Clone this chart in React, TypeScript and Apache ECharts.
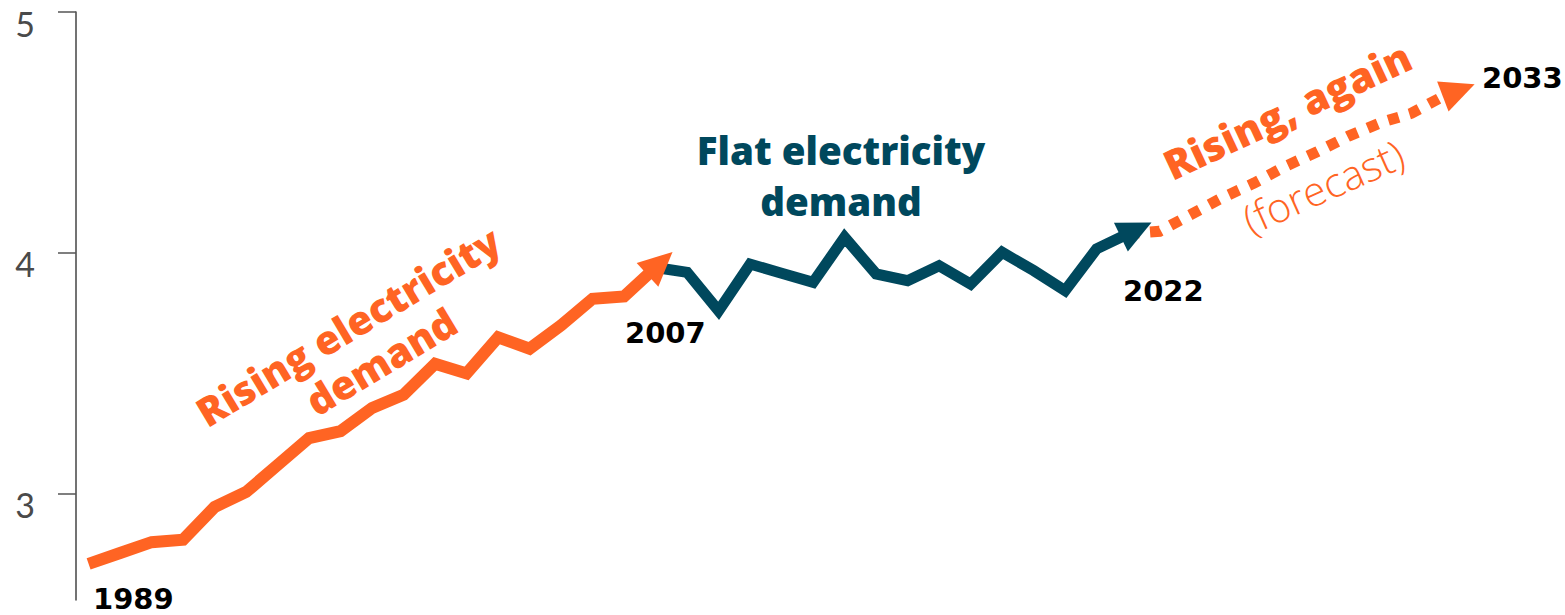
import React, { useEffect, useRef } from "react";
import * as echarts from "echarts";

// ---- data ----
const risingYears = [1989, 1990, 1991, 1992, 1993, 1994, 1995, 1996, 1997, 1998, 1999, 2000, 2001, 2002, 2003, 2004, 2005, 2006, 2007];
const risingValues = [2.71, 2.755, 2.8, 2.81, 2.946, 3.008, 3.12, 3.232, 3.261, 3.357, 3.412, 3.54, 3.5, 3.65, 3.603, 3.7, 3.81, 3.82, 3.94];

const flatYears = [2007, 2008, 2009, 2010, 2011, 2012, 2013, 2014, 2015, 2016, 2017, 2018, 2019, 2020, 2021, 2022];
const flatValues = [3.94, 3.92, 3.76, 3.954, 3.916, 3.878, 4.065, 3.913, 3.885, 3.947, 3.871, 4.003, 3.927, 3.844, 4.017, 4.08];

const forecastYears = [2022, 2023, 2024, 2025, 2026, 2027, 2028, 2029, 2030, 2031, 2032, 2033];
const forecastValues = [4.08, 4.09, 4.16, 4.23, 4.29, 4.36, 4.42, 4.485, 4.54, 4.58, 4.65, 4.7];

const yTicks = [3, 4, 5];
const yearLabels = ["1989", "2007", "2022", "2033"];

// ---- styles ----
const ORANGE = "#FF6423";
const TEAL = "#00485D";
const ARROW_LEN = 34;
const ARROW_W = 32;

function arrowPoints(p0: number[], p1: number[], ext: number) {
  const dx = p1[0] - p0[0];
  const dy = p1[1] - p0[1];
  const L = Math.hypot(dx, dy) || 1;
  const ux = dx / L;
  const uy = dy / L;
  const tip = [p1[0] + ux * ext, p1[1] + uy * ext];
  const base = [tip[0] - ux * ARROW_LEN, tip[1] - uy * ARROW_LEN];
  const nx = -uy;
  const ny = ux;
  return [
    tip,
    [base[0] + (nx * ARROW_W) / 2, base[1] + (ny * ARROW_W) / 2],
    [base[0] - (nx * ARROW_W) / 2, base[1] - (ny * ARROW_W) / 2],
  ];
}

function buildOption(): any {
  const nR = risingYears.length;
  const nF = flatYears.length;
  const arrowData = [
    [risingYears[nR - 2], risingValues[nR - 2], risingYears[nR - 1], risingValues[nR - 1], 23],
    [flatYears[nF - 2], flatValues[nF - 2], flatYears[nF - 1], flatValues[nF - 1], 26],
  ];
  const arrowColors = [ORANGE, TEAL];

  const yearFont = {
    fill: "#000",
    fontSize: 29,
    fontWeight: "bold",
    fontFamily: "DejaVu Sans",
    align: "left",
    verticalAlign: "middle",
  };

  const headFont = {
    fontWeight: 800,
    fontFamily: "Open Sans",
    align: "center",
    verticalAlign: "middle",
  };

  const risingRot = (31 * Math.PI) / 180;

  return {
    animation: false,
    backgroundColor: "#ffffff",
    grid: { left: 76, top: 12, width: 1486.8, height: 588, containLabel: false },
    xAxis: {
      type: "value",
      min: 1988.6,
      max: 2035.8,
      show: false,
      splitLine: { show: false },
    },
    yAxis: {
      type: "value",
      min: 2.56,
      max: 5,
      splitLine: { show: false },
      axisLine: { show: true, lineStyle: { color: "#444", width: 1.5 } },
      axisTick: {
        show: true,
        customValues: yTicks,
        length: 18,
        lineStyle: { color: "#555", width: 1.5 },
      },
      axisLabel: {
        customValues: yTicks,
        margin: 41,
        fontSize: 34,
        fontFamily: "Lato",
        fontWeight: 400,
        color: "#4a4a4a",
        verticalAlign: "top",
        lineHeight: 22,
      },
    },
    series: [
      {
        name: "Rising",
        type: "line",
        data: risingYears.map((y, i) => [y, risingValues[i]]),
        showSymbol: false,
        symbol: "none",
        lineStyle: { color: ORANGE, width: 12, join: "miter", cap: "butt" },
        z: 3,
      },
      {
        name: "Flat",
        type: "line",
        data: flatYears.map((y, i) => [y, flatValues[i]]),
        showSymbol: false,
        symbol: "none",
        lineStyle: { color: TEAL, width: 11, join: "miter", cap: "butt" },
        z: 4,
      },
      {
        name: "Forecast",
        type: "custom",
        coordinateSystem: "cartesian2d",
        clip: false,
        z: 2,
        data: forecastYears.map((y, i) => [y, forecastValues[i]]),
        renderItem: (params: any, api: any) => {
          if (params.dataIndex !== 0) return null;
          const pts = forecastYears.map((yr, i) => api.coord([yr, forecastValues[i]]));
          const n = pts.length;
          const a = pts[n - 2];
          const b = pts[n - 1];
          const dx = b[0] - a[0];
          const dy = b[1] - a[1];
          const L = Math.hypot(dx, dy) || 1;
          const trimmed = pts.slice(0, n - 1).concat([[b[0] - (dx / L) * 14, b[1] - (dy / L) * 14]]);
          return {
            type: "group",
            children: [
              {
                type: "polyline",
                shape: { points: trimmed },
                style: {
                  stroke: ORANGE,
                  lineWidth: 11,
                  lineDash: [11, 11],
                  fill: null,
                  lineCap: "butt",
                  lineJoin: "miter",
                },
              },
              {
                type: "polygon",
                shape: { points: arrowPoints(a, b, 0) },
                style: { fill: ORANGE },
              },
            ],
          };
        },
      },
      {
        name: "Arrows",
        type: "custom",
        coordinateSystem: "cartesian2d",
        clip: false,
        z: 6,
        encode: { x: [0, 2], y: [1, 3] },
        data: arrowData,
        renderItem: (params: any, api: any) => {
          const p0 = api.coord([api.value(0), api.value(1)]);
          const p1 = api.coord([api.value(2), api.value(3)]);
          const ext = api.value(4);
          return {
            type: "polygon",
            shape: { points: arrowPoints(p0, p1, ext) },
            style: { fill: arrowColors[params.dataIndex] },
          };
        },
      },
    ],
    graphic: [
      {
        type: "text",
        x: 348,
        y: 326,
        rotation: risingRot,
        z: 10,
        style: { ...headFont, text: "Rising electricity", fill: ORANGE, fontSize: 40 },
      },
      {
        type: "text",
        x: 381,
        y: 361,
        rotation: risingRot,
        z: 10,
        style: { ...headFont, text: "demand", fill: ORANGE, fontSize: 40 },
      },
      {
        type: "text",
        x: 841,
        y: 175,
        z: 10,
        style: {
          ...headFont,
          text: "Flat electricity\ndemand",
          fill: TEAL,
          fontSize: 38.5,
          lineHeight: 51,
        },
      },
      {
        type: "text",
        x: 1287,
        y: 110,
        rotation: (25 * Math.PI) / 180,
        z: 10,
        style: {
          ...headFont,
          text: "Rising, again",
          fill: ORANGE,
          fontSize: 41,
        },
      },
      {
        type: "text",
        x: 1323,
        y: 186,
        rotation: (24 * Math.PI) / 180,
        z: 10,
        style: {
          text: "(forecast)",
          fill: ORANGE,
          fontSize: 41,
          fontWeight: 300,
          fontFamily: "Open Sans",
          align: "center",
          verticalAlign: "middle",
        },
      },
      { type: "text", x: 93, y: 598.5, z: 10, style: { ...yearFont, text: yearLabels[0] } },
      { type: "text", x: 625, y: 332.5, z: 10, style: { ...yearFont, text: yearLabels[1] } },
      { type: "text", x: 1123, y: 291, z: 10, style: { ...yearFont, text: yearLabels[2] } },
      { type: "text", x: 1482, y: 77.5, z: 10, style: { ...yearFont, text: yearLabels[3] } },
    ],
  };
}

export default function App() {
  const ref = useRef<HTMLDivElement>(null);
  useEffect(() => {
    if (!ref.current) return;
    const chart = echarts.init(ref.current, null, { renderer: "svg" });
    chart.setOption(buildOption());
    return () => chart.dispose();
  }, []);
  return (
    <div
      ref={ref}
      style={{ position: "fixed", left: 0, top: 0, width: 1565, height: 615, background: "#fff" }}
    />
  );
}
